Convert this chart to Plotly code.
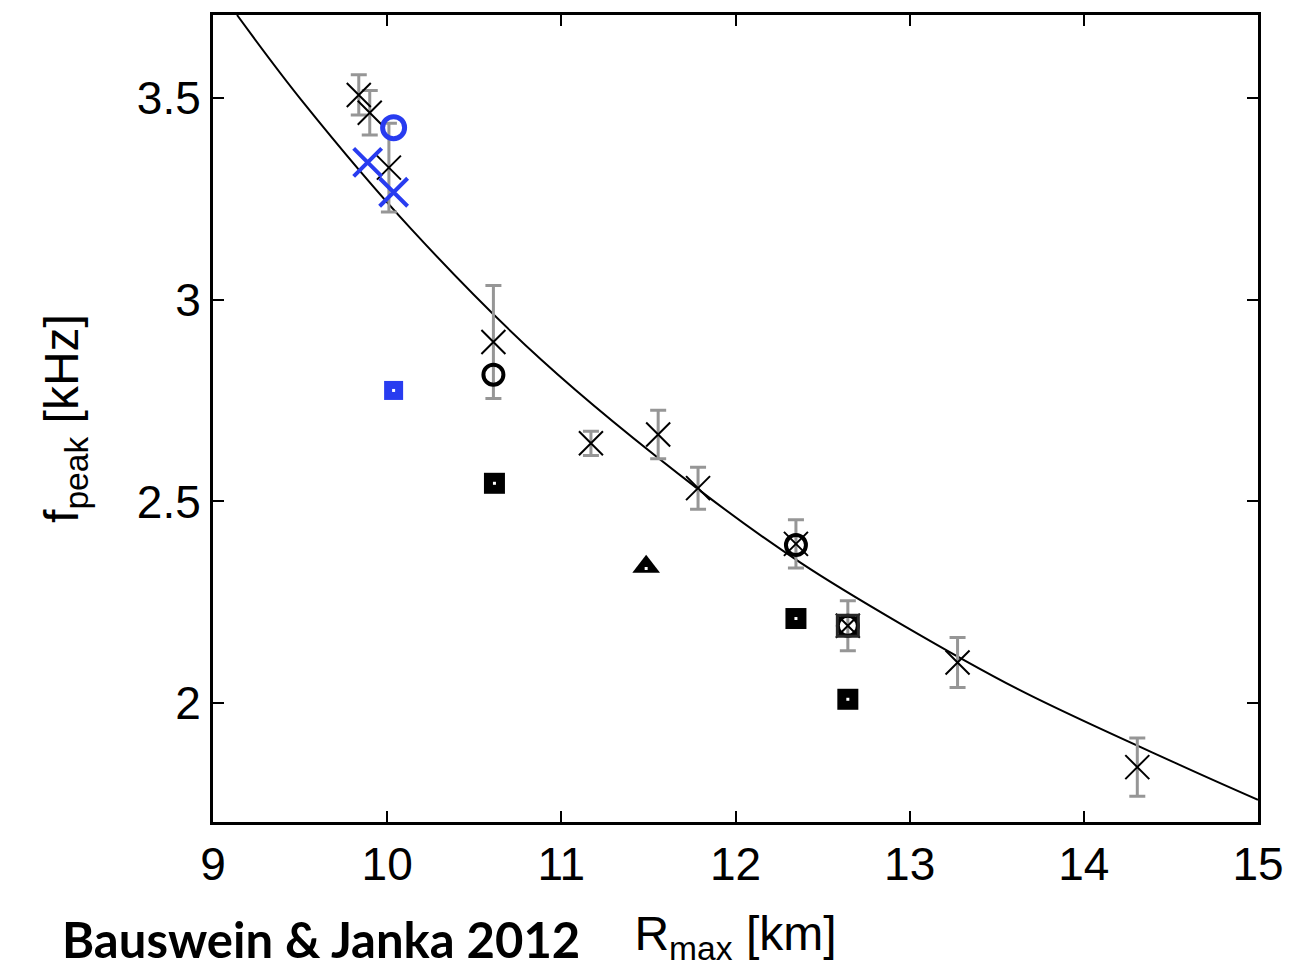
import plotly.graph_objects as go

# Fit curve
curve_x = [9.138, 9.510, 10.140, 10.885, 11.802, 12.375, 12.948, 13.636, 14.553, 15.0]
curve_y = [3.705, 3.493, 3.174, 2.851, 2.525, 2.348, 2.197, 2.032, 1.847, 1.761]

# Black crosses with error bars
cross_x = [9.837, 9.90, 10.01, 10.61, 11.17, 11.556, 11.785, 12.347, 12.645, 13.275, 14.307]
cross_y = [3.507, 3.463, 3.327, 2.895, 2.644, 2.666, 2.533, 2.395, 2.192, 2.101, 1.842]
cross_err = [0.05, 0.055, 0.11, 0.14, 0.03, 0.06, 0.052, 0.06, 0.062, 0.062, 0.072]

# Black open circles
circ_x = [10.61, 12.347, 12.645]
circ_y = [2.814, 2.392, 2.192]

# Black filled squares
sq_x = [10.616, 12.347, 12.645]
sq_y = [2.545, 2.210, 2.010]

# Black triangle
tri_x = [11.487]
tri_y = [2.338]

# Blue symbols
bcirc_x = [10.037]
bcirc_y = [3.426]
bcross_x = [9.888, 10.037]
bcross_y = [3.340, 3.266]
bsq_x = [10.037]
bsq_y = [2.775]

blue = "rgb(40,60,240)"

fig = go.Figure()

fig.add_trace(go.Scatter(x=curve_x, y=curve_y, mode="lines",
                         line=dict(color="black", width=2, shape="spline", smoothing=1.0), hoverinfo="skip"))

fig.add_trace(go.Scatter(x=cross_x, y=cross_y, mode="markers",
                         marker=dict(symbol="x-thin-open", size=24, color="black", line=dict(color="black", width=2)),
                         error_y=dict(type="data", array=cross_err, visible=True, color="rgb(150,150,150)", thickness=3, width=8)))

fig.add_trace(go.Scatter(x=circ_x, y=circ_y, mode="markers",
                         marker=dict(symbol="circle-open", size=20, color="black", line=dict(color="black", width=4))))

fig.add_trace(go.Scatter(x=sq_x, y=sq_y, mode="markers",
                         marker=dict(symbol="square", size=21, color="black", line=dict(width=0))))
fig.add_trace(go.Scatter(x=[circ_x[2]], y=[circ_y[2]], mode="markers",
                         marker=dict(symbol="square-open", size=21, color="rgb(40,40,40)", line=dict(color="rgb(40,40,40)", width=3))))

fig.add_trace(go.Scatter(x=tri_x, y=tri_y, mode="markers",
                         marker=dict(symbol="triangle-up", size=24, color="black", line=dict(width=0))))

fig.add_trace(go.Scatter(x=bsq_x, y=bsq_y, mode="markers",
                         marker=dict(symbol="square", size=19, color=blue, line=dict(width=0))))

# small white centre dots of filled symbols
fig.add_trace(go.Scatter(x=sq_x + tri_x + bsq_x, y=sq_y + [tri_y[0] - 0.004] + bsq_y, mode="markers",
                         marker=dict(symbol="square", size=3, color="white", line=dict(width=0))))

fig.add_trace(go.Scatter(x=bcirc_x, y=bcirc_y, mode="markers",
                         marker=dict(symbol="circle-open", size=22, color=blue, line=dict(color=blue, width=5))))
fig.add_trace(go.Scatter(x=bcross_x, y=bcross_y, mode="markers",
                         marker=dict(symbol="x-thin-open", size=28, color=blue, line=dict(color=blue, width=4))))

axis_font = dict(family="Liberation Sans, Arial, sans-serif", size=46, color="black")
title_font = dict(family="Liberation Sans, Arial, sans-serif", size=48, color="black")

fig.update_layout(
    width=1305, height=973,
    margin=dict(l=213, r=47, t=12, b=151),
    paper_bgcolor="white", plot_bgcolor="white",
    showlegend=False,
    xaxis=dict(range=[9, 15], tickvals=[9, 10, 11, 12, 13, 14, 15], ticktext=["9", "10", "11", "12", "13", "14", "15"],
               ticks="inside", ticklen=11, tickwidth=2, tickcolor="black",
               showline=True, linewidth=3, linecolor="black", mirror="ticks",
               showgrid=False, zeroline=False, tickfont=axis_font,
               title=dict(text="R<sub>max</sub> [km]", font=title_font, standoff=28)),
    yaxis=dict(range=[1.706, 3.705], tickvals=[2, 2.5, 3, 3.5], ticktext=["2", "2.5", "3", "3.5"],
               ticks="inside", ticklen=11, tickwidth=2, tickcolor="black",
               showline=True, linewidth=3, linecolor="black", mirror="ticks",
               showgrid=False, zeroline=False, tickfont=axis_font,
               title=dict(text="f<sub>peak</sub> [kHz]", font=title_font, standoff=44)),
    annotations=[dict(text="<b>Bauswein &amp; Janka 2012</b>", xref="paper", yref="paper", x=-0.1464, y=-0.183,
                      xanchor="left", yanchor="bottom", showarrow=False,
                      font=dict(family="Lato, Open Sans, sans-serif", size=49, color="black"))],
)

fig.write_html("out.html")
